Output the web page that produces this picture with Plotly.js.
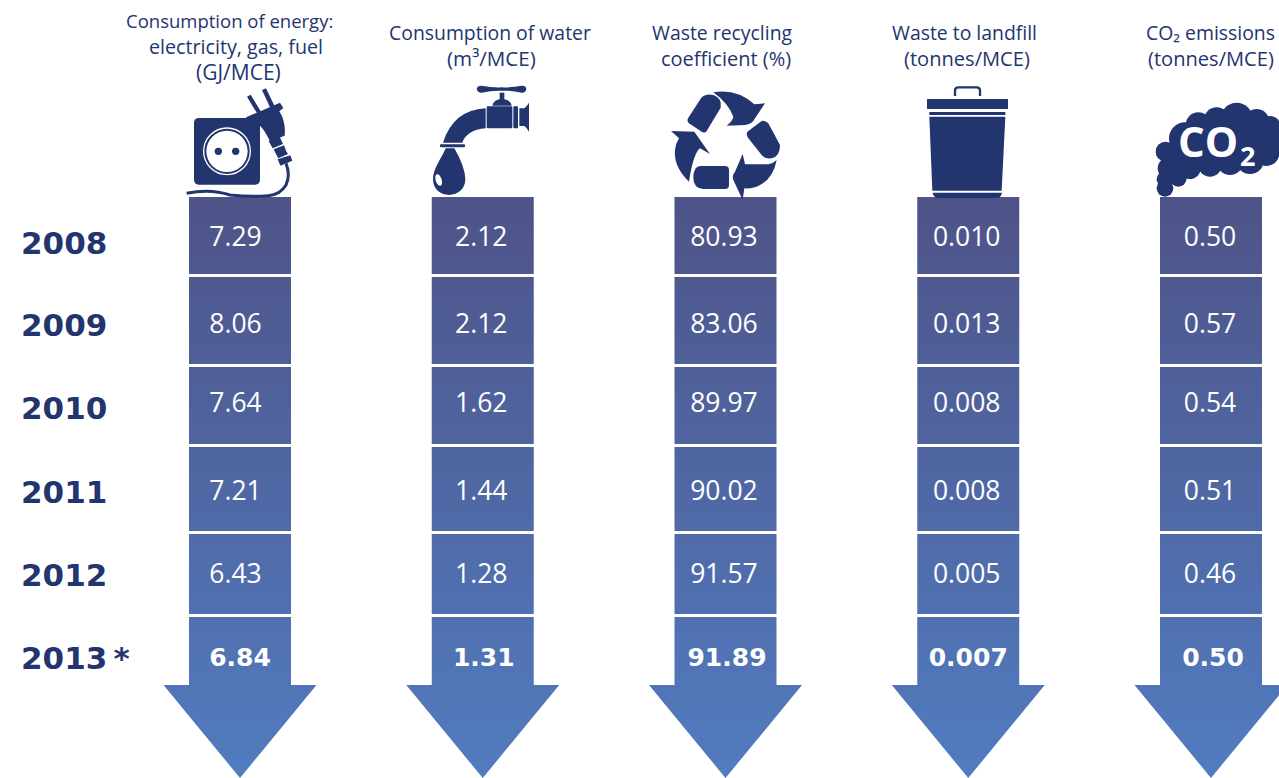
<!DOCTYPE html>
<html>
<head>
<meta charset="utf-8">
<script src="https://cdn.plot.ly/plotly-3.0.1.min.js"></script>
<style>html,body{margin:0;padding:0;background:#fff;overflow:hidden}#chart{width:1279px;height:778px}</style>
</head>
<body>
<div id="chart"></div>
<script>
// ---- data ----
const years = ["2008", "2009", "2010", "2011", "2012", "2013\u2009*"];
const energy = [7.29, 8.06, 7.64, 7.21, 6.43, 6.84];
const water = [2.12, 2.12, 1.62, 1.44, 1.28, 1.31];
const recycling = [80.93, 83.06, 89.97, 90.02, 91.57, 91.89];
const landfill = [0.010, 0.013, 0.008, 0.008, 0.005, 0.007];
const co2 = [0.50, 0.57, 0.54, 0.51, 0.46, 0.50];

const seriesList = [energy, water, recycling, landfill, co2];
const seriesDecimals = [2, 2, 2, 3, 2];
const headers = [
  ["Consumption of energy:", "electricity, gas, fuel", "(GJ/MCE)"],
  ["Consumption of water", "(m\u00b3/MCE)"],
  ["Waste recycling", "coefficient (%)"],
  ["Waste to landfill", "(tonnes/MCE)"],
  ["CO\u2082 emissions", "(tonnes/MCE)"]
];

// ---- layout geometry (the y axis runs in page pixels) ----
const rowTop = [197, 277, 367, 447, 534, 617];
const rowBottom = [274, 364, 444, 531, 614, 685];
const valueY = [239.5, 326.5, 405.5, 493.5, 576.5, 660];
const valueShift = [-4.5, -1.5, -1.5, -1.5, -1];
const boldShift = [0, 1, 1.5, 0, 2];
const yearY = [243, 325, 408, 492, 575, 658];
const headerLineX = [[229.5, 236, 239], [489.5, 492], [722, 725.5], [964.5, 967], [1210, 1210.5]];
const headerLineY = [[20, 46, 72], [32, 58], [32, 58], [32, 58], [32, 58]];
const headerLineSize = [[18.5, 19.7, 21], [19.4, 20.6], [19.4, 20], [19.4, 20.1], [19.4, 20.1]];
const colStep = 242.75, colFirst = 240;
const barWidth = 102 / colStep, headHalf = 76.5 / colStep, arrowTip = 778;
const INK = "#22356f", FONT = "'Open Sans', sans-serif", HEAVY = "'DejaVu Sans', sans-serif";

const traces = [];
seriesList.forEach((vals, c) => {
  traces.push({
    type: "bar", x: vals.map(() => c), base: rowTop,
    y: rowTop.map((t, i) => rowBottom[i] - t), width: barWidth,
    marker: {color: ["#4e5489", "#4e5a91", "#4f6199", "#4f67a1", "#506ea9", "#5074b2"], line: {width: 0}},
    hoverinfo: "skip", showlegend: false
  });
});
const hx = [], hy = [];
seriesList.forEach((v, c) => {
  hx.push(c - headHalf, c + headHalf, c, c - headHalf, null);
  hy.push(rowBottom[5], rowBottom[5], arrowTip, rowBottom[5], null);
});
traces.push({type: "scatter", mode: "lines", x: hx, y: hy, fill: "toself", fillcolor: "#5079bb",
  line: {width: 0}, hoverinfo: "skip", showlegend: false});
seriesList.forEach((vals, c) => {
  traces.push({
    type: "scatter", mode: "text",
    x: vals.map((v, i) => c + (i === 5 ? boldShift[c] : valueShift[c]) / colStep), y: valueY,
    text: vals.map(v => v.toFixed(seriesDecimals[c])),
    textposition: "middle center",
    textfont: {
      family: vals.map((v, i) => (i === 5 ? HEAVY : FONT)),
      size: vals.map((v, i) => (i === 5 ? 25 : 26.5)),
      weight: vals.map((v, i) => (i === 5 ? 700 : 400)),
      color: "#ffffff"
    },
    hoverinfo: "skip", showlegend: false, cliponaxis: false
  });
});

function svgUri(w, h, inner) {
  const s = `<svg xmlns="http://www.w3.org/2000/svg" width="${w * 3}" height="${h * 3}" viewBox="0 0 ${w * 3} ${h * 3}">${inner}</svg>`;
  return "data:image/svg+xml;base64," + btoa(s);
}
function icon(x, y, w, h, inner) {
  return {source: svgUri(w, h, inner), xref: "paper", yref: "paper", x: x / 1279, y: 1 - y / 778,
    sizex: w / 1279, sizey: h / 778, xanchor: "left", yanchor: "top", sizing: "stretch", layer: "above"};
}
const C = INK;
const plug = `<g fill="${C}">
<rect x="42" y="114" width="198" height="200" rx="14"/>
<path d="M198 112 L300 68 L310 84 L298 94 Q318 125 314 167 L270 184 Q255 152 240 137 L208 124 Z"/>
<path d="M231 100 L201 50 L212 44 L243 95 Z M271 84 L246 30 L258 25 L284 79 Z"/>
<path d="M266 184 L298 168 L309 192 L278 205 Z M281 208 L312 196 L318 212 L324 222 L295 235 L288 222 Z M293 238 L331 226 L337 242 L301 257 Z"/>
</g>
<circle cx="141" cy="214" r="70" fill="none" stroke="#fff" stroke-width="4"/>
<circle cx="141" cy="214" r="62" fill="#fff"/>
<circle cx="115" cy="214" r="11" fill="${C}"/><circle cx="167" cy="214" r="11" fill="${C}"/>
<path d="M318 250 Q332 285 318 315 Q300 345 265 347 Q215 352 150 345 Q90 325 20 340" fill="none" stroke="${C}" stroke-width="9"/>`;
const tap = `<g fill="${C}">
<path d="M155 27 Q157 16 170 17 Q200 23 230 22 Q260 23 290 17 Q303 16 304 27 Q303 38 290 38 Q260 31 230 32 Q200 31 170 38 Q157 38 155 27 Z"/>
<rect x="224" y="38" width="14" height="24"/>
<path d="M202 77 Q206 58 231 57 Q256 58 260 77 Z"/>
<rect x="185" y="79" width="77" height="66" rx="4"/>
<rect x="265" y="79" width="14" height="66" rx="3"/>
<path d="M283 85 L298 85 Q305 80 312 68 L312 155 Q305 142 298 138 L283 138 Z"/>
<path d="M182 85 Q85 90 54 188 L112 188 Q125 150 182 145 Z"/>
<rect x="45" y="193" width="75" height="9" rx="3"/>
<path d="M62 205 L88 205 Q120 260 121 298 C121 325 100 345 72 345 C44 345 24 325 24 298 C24 265 50 235 62 205 Z"/>
</g><ellipse cx="41" cy="300" rx="9" ry="18" transform="rotate(-18 41 300)" fill="#fff"/>`;
const recycle = `<g fill="${C}">
<path d="M108 40 Q120 25 145 30 Q172 40 167 68 L125 138 Q120 146 110 140 L72 115 Q64 108 70 98 Z"/>
<path d="M145 22 Q215 10 268 58 L300 55 L270 100 Q262 118 240 120 L185 122 Q205 105 205 95 Q190 55 145 22 Z"/>
<path d="M290 108 Q300 105 310 115 L345 180 Q345 215 320 220 Q300 222 290 210 L250 160 Q240 145 250 138 Z"/>
<path d="M233 207 L240 238 L310 238 Q325 235 335 225 Q325 280 285 300 Q265 312 238 310 L233 345 L205 285 Q200 270 210 260 Z"/>
<path d="M105 243 L180 243 Q192 243 192 255 L192 300 Q192 312 180 312 L115 312 Q85 310 85 278 Q85 245 105 243 Z"/>
<path d="M18 138 L88 140 L135 207 L105 190 Q85 205 72 290 Q25 245 30 195 Q32 175 42 160 Z"/>
</g>`;
const bin = `<g fill="${C}">
<path d="M105 48 L105 32 Q105 22 115 22 L170 22 Q180 22 180 32 L180 48" fill="none" stroke="${C}" stroke-width="7"/>
<rect x="21" y="57" width="243" height="30"/>
<rect x="28" y="96" width="228" height="9"/>
<path d="M28 110 L256 110 L245 332 L37 332 Z"/>
<path d="M38 338 L246 338 L244 345 Q240 354 230 354 L55 354 Q45 354 40 345 Z"/>
</g>`;
const cloudCircles = [[45,295,25],[45,268,25],[55,235,32],[47,185,30],[105,145,48],[145,105,38],[200,90,38],[260,85,47],[320,95,38],[360,110,32],[385,150,40],[350,190,38],[300,210,42],[240,215,40],[180,225,35],[120,235,32],[85,265,25],[220,150,85],[130,190,58],[300,140,70],[90,210,40]];
const cloud = `<g fill="${C}">` + cloudCircles.map(c => `<circle cx="${c[0]}" cy="${c[1]}" r="${c[2]}"/>`).join("") + `</g>`;

const annotations = [];
headers.forEach((lines, i) => lines.forEach((t, j) => annotations.push({
  text: t, xref: "paper", yref: "y", x: headerLineX[i][j] / 1279, y: headerLineY[i][j],
  xanchor: "center", yanchor: "middle", align: "center", showarrow: false,
  font: {family: FONT, size: headerLineSize[i][j], color: INK}
})));
const cloudText = [["CO", 1208, 140, 42], ["2", 1247, 155, 27]];
cloudText.forEach(t => annotations.push({text: t[0], xref: "paper", yref: "y", x: t[1] / 1279, y: t[2],
  xanchor: "center", yanchor: "middle", showarrow: false,
  font: {family: FONT, size: t[3], color: "#ffffff", weight: 700}}));
years.forEach((t, i) => annotations.push({
  text: t, xref: "paper", yref: "y", x: 19.5 / 1279, y: yearY[i],
  xanchor: "left", yanchor: "middle", align: "left", showarrow: false, borderpad: 0,
  font: {family: HEAVY, size: 31, color: INK, weight: 700}
}));

const layout = {
  width: 1279, height: 778, margin: {l: 0, r: 0, t: 0, b: 0},
  paper_bgcolor: "#ffffff", plot_bgcolor: "#ffffff", barmode: "overlay", showlegend: false,
  xaxis: {range: [-colFirst / colStep, (1279 - colFirst) / colStep], visible: false, fixedrange: true},
  yaxis: {range: [778, 0], visible: false, fixedrange: true},
  images: [icon(180, 80, 125, 120, plug), icon(425, 80, 115, 120, tap), icon(665, 85, 120, 115, recycle),
           icon(920, 80, 95, 120, bin), icon(1150, 90, 129, 110, cloud)],
  annotations
};

Plotly.newPlot("chart", traces, layout, {displayModeBar: false, staticPlot: true}).then(() => {
  const svg = document.querySelector("#chart .main-svg");
  const ns = "http://www.w3.org/2000/svg";
  const grad = document.createElementNS(ns, "linearGradient");
  grad.setAttribute("id", "columnFill");
  grad.setAttribute("gradientUnits", "userSpaceOnUse");
  grad.setAttribute("x1", 0); grad.setAttribute("x2", 0);
  grad.setAttribute("y1", 197); grad.setAttribute("y2", 778);
  [["0", "#4e5388"], ["1", "#517cc0"]].forEach(s => {
    const st = document.createElementNS(ns, "stop");
    st.setAttribute("offset", s[0]); st.setAttribute("stop-color", s[1]);
    grad.appendChild(st);
  });
  svg.querySelector("defs").appendChild(grad);
  document.querySelectorAll("#chart .bars .point path, #chart .scatterlayer .js-fill").forEach(p => {
    p.style.fill = "url(#columnFill)";
  });
});
</script>
</body>
</html>
